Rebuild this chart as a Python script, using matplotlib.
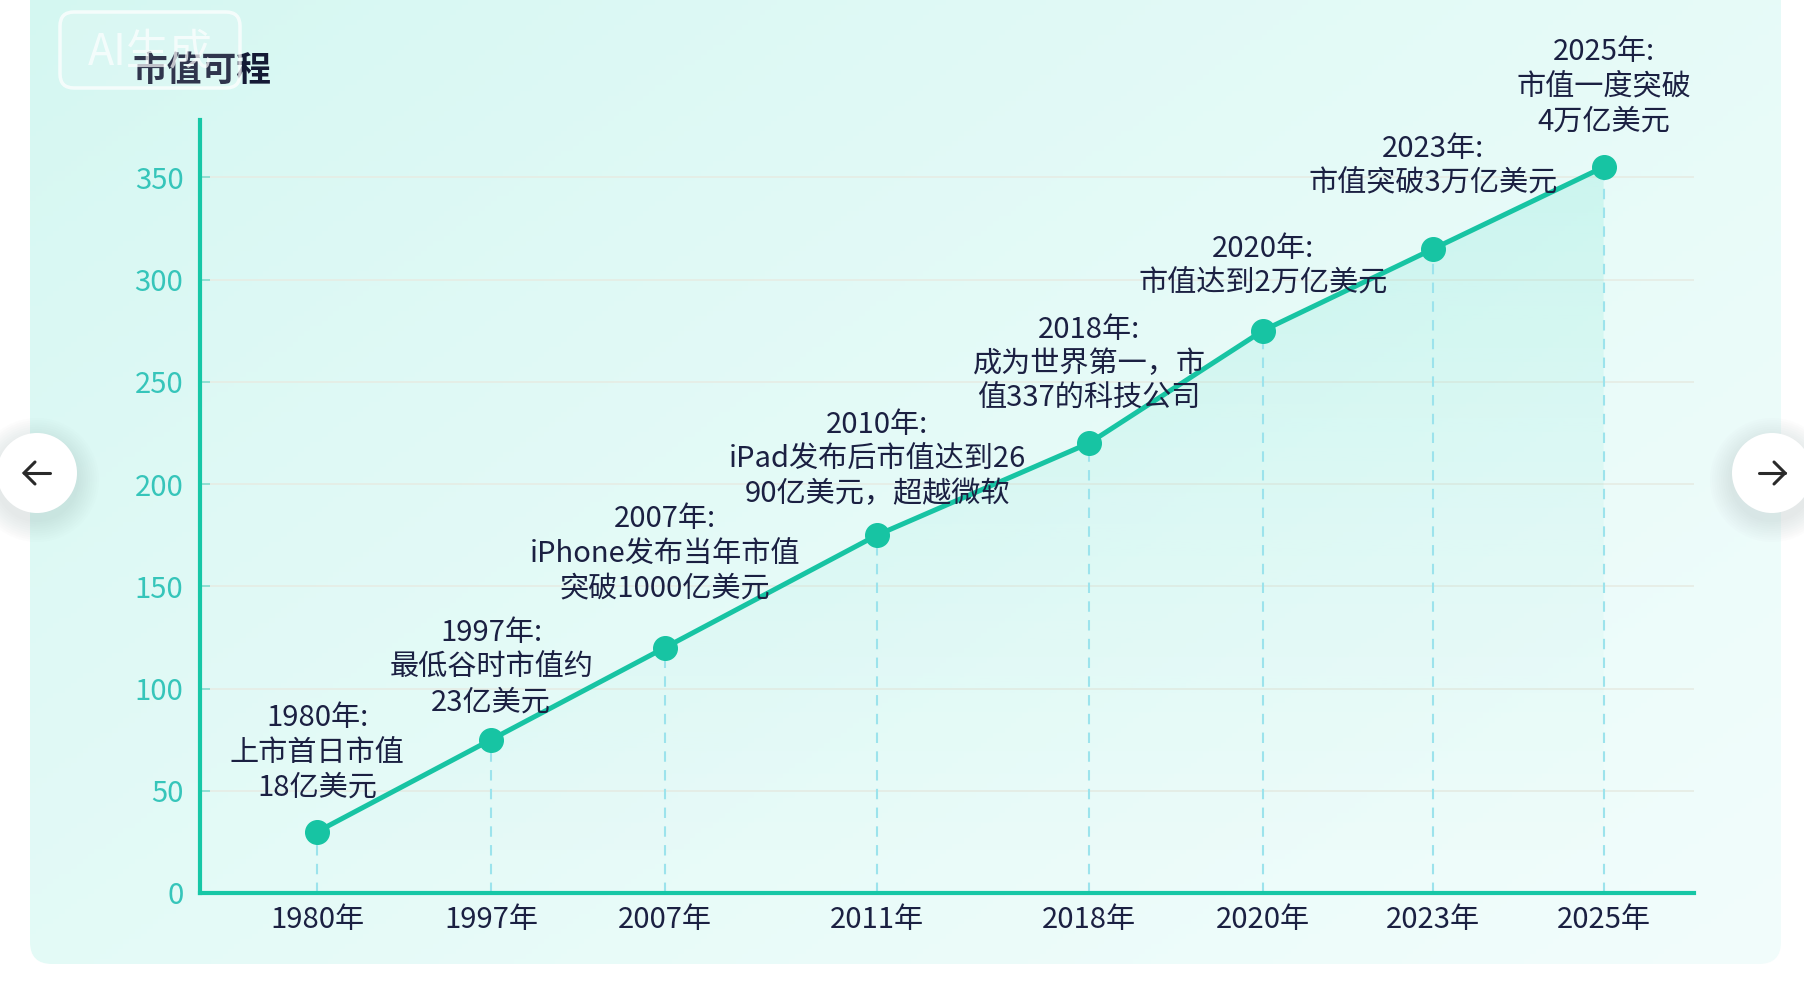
import matplotlib
matplotlib.use("Agg")
import matplotlib.pyplot as plt
import numpy as np
from matplotlib.colors import LinearSegmentedColormap, to_rgb
from matplotlib.patches import Circle, FancyBboxPatch, Polygon

plt.rcParams["font.family"] = ["Noto Sans CJK SC", "DejaVu Sans"]

# data
years = ["1980年", "1997年", "2007年", "2011年", "2018年", "2020年", "2023年", "2025年"]
market_value = [30, 75, 120, 175, 220, 275, 315, 355]
notes = [
    "1980年:\n上市首日市值\n18亿美元",
    "1997年:\n最低谷时市值约\n23亿美元",
    "2007年:\niPhone发布当年市值\n突破1000亿美元",
    "2010年:\niPad发布后市值达到26\n90亿美元，超越微软",
    "2018年:\n成为世界第一，市\n值337的科技公司",
    "2020年:\n市值达到2万亿美元",
    "2023年:\n市值突破3万亿美元",
    "2025年:\n市值一度突破\n4万亿美元",
]
y_ticks = [0, 50, 100, 150, 200, 250, 300, 350]

LINE = "#17c4a3"
NAVY = "#1b2042"
W, H = 1804, 986

fig = plt.figure(figsize=(W / 100, H / 100), dpi=100)

# background card in pixel coords
bg = fig.add_axes([0, 0, 1, 1], zorder=-10)
bg.set_xlim(0, W)
bg.set_ylim(H, 0)
bg.axis("off")
card = FancyBboxPatch((30, -40), 1751, 1004, boxstyle="round,pad=0,rounding_size=22",
                      facecolor="none", edgecolor="none")
bg.add_patch(card)
u, v = np.meshgrid(np.linspace(0, 1, 300), np.linspace(0, 1, 200))
t = np.clip(0.55 * u + 0.45 * v, 0, 1) ** 0.8
c0, c1 = np.array(to_rgb("#d3f7f1")), np.array(to_rgb("#f2fdfc"))
grad = c0[None, None, :] * (1 - t[..., None]) + c1[None, None, :] * t[..., None]
im = bg.imshow(grad, extent=[30, 1781, 964, -40], aspect="auto", zorder=1)
im.set_clip_path(card)

# main chart
ax = fig.add_axes([200 / W, 1 - 893 / H, (1694 - 200) / W, (893 - 120) / H])
ax.patch.set_alpha(0)
slot = [0, 1, 2, 3.22, 4.44, 5.44, 6.42, 7.4]  # uneven spacing as in the reference
ax.set_xlim(-0.675, 7.92)
ax.set_ylim(0, 378)

# gradient fill under the line
poly = Polygon(list(zip(slot, market_value)) + [(slot[-1], 0), (slot[0], 0)],
               closed=True, facecolor="none", edgecolor="none")
ax.add_patch(poly)
fill_cmap = LinearSegmentedColormap.from_list(
    "fill", [(*to_rgb("#46dcc4"), 0.0), (*to_rgb("#46dcc4"), 0.17)])
fimg = ax.imshow(np.linspace(0, 1, 256)[:, None] ** 1.3, cmap=fill_cmap, origin="lower",
                 extent=[slot[0], slot[-1], 0, max(market_value)], aspect="auto", zorder=1)
fimg.set_clip_path(poly)

ax.vlines(slot, 0, market_value, colors="#9ce3ec", linestyles=(0, (5, 4)), lw=1.5, zorder=2)
ax.plot(slot, market_value, color=LINE, lw=3.6, marker="o", markersize=17,
        solid_capstyle="round", zorder=4)

note_offsets = [21, 16, 32, 19, 21, 23, 36, 22]
for x, y, note, off in zip(slot, market_value, notes, note_offsets):
    ax.annotate(note, (x, y), xytext=(0, off), textcoords="offset points",
                ha="center", va="bottom", fontsize=21, color=NAVY,
                linespacing=1.2, multialignment="center", zorder=5)

ax.set_xticks(slot)
ax.set_xticklabels(years, fontsize=21, color=NAVY)
ax.set_yticks(y_ticks)
ax.set_yticklabels([str(v) for v in y_ticks], fontsize=21, color="#36c5ba")
ax.tick_params(axis="x", length=0, pad=9)
ax.tick_params(axis="y", direction="in", length=7, width=1.2, color="#7fdccf", pad=12)
ax.yaxis.grid(True, color="#e6ece4", lw=1.2)
ax.set_axisbelow(True)
for side in ["top", "right"]:
    ax.spines[side].set_visible(False)
for side in ["left", "bottom"]:
    ax.spines[side].set_color("#16c7a6")
    ax.spines[side].set_linewidth(3)

fig.text(132 / W, 1 - 70 / H, "市值可程", fontsize=25, fontweight="bold",
         color="#141a35", va="center")

# overlay: watermark and carousel buttons
ov = fig.add_axes([0, 0, 1, 1], zorder=20)
ov.set_xlim(0, W)
ov.set_ylim(H, 0)
ov.axis("off")
ov.patch.set_alpha(0)
ov.add_patch(FancyBboxPatch((60, 12), 180, 76, boxstyle="round,pad=0,rounding_size=14",
                            facecolor=(1, 1, 1, 0.12), edgecolor=(1, 1, 1, 0.75), lw=2.5))
ov.text(150, 52, "AI生成", fontsize=31, color="white", alpha=0.7, ha="center", va="center")

for cx, d in [(37, -1), (1772, 1)]:
    for r in np.linspace(62, 42, 10):
        ov.add_patch(Circle((cx, 480), r, facecolor="#9aa5a5", alpha=0.025, edgecolor="none"))
    ov.add_patch(Circle((cx, 473), 40, facecolor="white", edgecolor="none"))
    tip = cx + d * 13
    ov.plot([cx - d * 13, tip], [473, 473], color="#2a2a2a", lw=2.2, solid_capstyle="round")
    ov.plot([tip - d * 11, tip, tip - d * 11], [462, 473, 484], color="#2a2a2a", lw=2.2,
            solid_capstyle="round", solid_joinstyle="miter")

fig.savefig("out.png", dpi=100)
